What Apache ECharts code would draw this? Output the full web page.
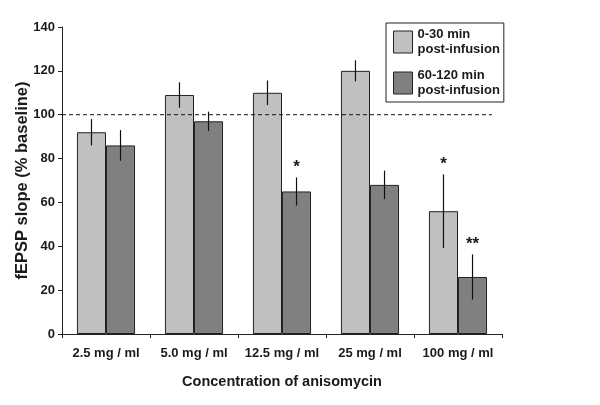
<!DOCTYPE html>
<html><head><meta charset="utf-8">
<script src="https://cdn.jsdelivr.net/npm/echarts@6/dist/echarts.min.js"></script>
<style>html,body{margin:0;padding:0;background:#fff}#c{width:600px;height:405px}</style>
</head><body><div id="c"></div>
<script>
var categories = ['2.5 mg / ml', '5.0 mg / ml', '12.5 mg / ml', '25 mg / ml', '100 mg / ml'];
var seriesNames = ['0-30 min\npost-infusion', '60-120 min\npost-infusion'];
var early = [92, 109, 110, 120, 56];
var earlyErr = [6, 5.8, 5.6, 4.8, 16.8];
var late = [86, 97, 65, 68, 26];
var lateErr = [7, 4.4, 6.4, 6.5, 10.3];
var earlySig = ['', '', '', '', '*'];
var lateSig = ['', '', '*', '', '**'];
var yTicks = {min: 0, max: 140, interval: 20};
var baseline = 100;

var FONT = '"Liberation Sans", Arial, sans-serif';
var TXT = '#1a1a1a';
var GAP = 0.34;

function errSeries(vals, errs, sig, side) {
  var data = vals.map(function (v, i) { return [i, v, errs[i], sig[i]]; });
  return {
    type: 'custom',
    data: data,
    z: 5,
    silent: true,
    renderItem: function (params, api) {
      var i = api.value(0), v = api.value(1), e = api.value(2);
      var band = api.size([1, 0])[0];
      var bw = band * (1 - GAP) / 2;
      var c = api.coord([i, v]);
      var x = c[0] + side * bw / 2;
      var hi = api.coord([i, v + e])[1];
      var lo = api.coord([i, v - e])[1];
      var children = [{
        type: 'line',
        shape: {x1: x, y1: hi, x2: x, y2: lo},
        style: {stroke: '#111', lineWidth: 1.2}
      }];
      var s = sig[params.dataIndex];
      if (s) {
        children.push({
          type: 'text',
          style: {text: s, x: x, y: hi - 2, align: 'center', verticalAlign: 'bottom',
                  font: 'bold 17px ' + FONT, fill: TXT}
        });
      }
      return {type: 'group', children: children};
    }
  };
}

var baselineSeries = {
  type: 'custom',
  data: [[0, baseline]],
  z: 4,
  silent: true,
  renderItem: function (params, api) {
    var cs = params.coordSys;
    var y = api.coord([0, api.value(1)])[1];
    return {
      type: 'line',
      shape: {x1: cs.x, y1: y, x2: cs.x + cs.width * 0.977, y2: y},
      style: {stroke: '#111', lineWidth: 1, lineDash: [4, 3]}
    };
  }
};

var chart = echarts.init(document.getElementById('c'), null, {renderer: 'canvas'});
chart.setOption({
  animation: false,
  backgroundColor: '#fff',
  textStyle: {fontFamily: FONT},
  grid: {left: 62, right: 98, top: 27, bottom: 71, outerBoundsMode: 'none'},
  legend: {
    orient: 'vertical',
    left: 386, top: 23,
    padding: [4, 4, 4, 7],
    itemGap: 11,
    itemWidth: 19, itemHeight: 22,
    icon: 'rect',
    borderColor: '#222', borderWidth: 1, borderRadius: 0,
    backgroundColor: '#fff',
    data: seriesNames,
    textStyle: {fontFamily: FONT, fontWeight: 'bold', fontSize: 13, color: TXT, lineHeight: 15},
    itemStyle: {borderColor: '#222', borderWidth: 1}
  },
  xAxis: {
    type: 'category',
    data: categories,
    name: 'Concentration of anisomycin',
    nameLocation: 'middle',
    nameGap: 40,
    nameTextStyle: {fontFamily: FONT, fontWeight: 'bold', fontSize: 14.5, color: TXT},
    axisLine: {lineStyle: {color: '#222', width: 1}},
    axisTick: {show: true, length: 4, lineStyle: {color: '#222'}},
    axisLabel: {interval: 0, fontFamily: FONT, fontWeight: 'bold', fontSize: 13, color: TXT, margin: 13}
  },
  yAxis: {
    type: 'value',
    min: yTicks.min, max: yTicks.max, interval: yTicks.interval,
    name: 'fEPSP slope (% baseline)',
    nameLocation: 'middle',
    nameGap: 31,
    nameMoveOverlap: false,
    nameTextStyle: {fontFamily: FONT, fontWeight: 'bold', fontSize: 16.5, color: TXT},
    splitLine: {show: false},
    axisLine: {show: true, lineStyle: {color: '#222', width: 1}},
    axisTick: {show: true, length: 4, lineStyle: {color: '#222'}},
    axisLabel: {fontFamily: FONT, fontWeight: 'bold', fontSize: 13, color: TXT, margin: 7}
  },
  series: [
    {
      name: seriesNames[0], type: 'bar', data: early,
      barGap: '0%', barCategoryGap: (GAP * 100) + '%',
      itemStyle: {color: '#c0c0c0', borderColor: '#222', borderWidth: 1}
    },
    {
      name: seriesNames[1], type: 'bar', data: late,
      itemStyle: {color: '#808080', borderColor: '#222', borderWidth: 1}
    },
    baselineSeries,
    errSeries(early, earlyErr, earlySig, -1),
    errSeries(late, lateErr, lateSig, 1)
  ]
});
</script></body></html>
